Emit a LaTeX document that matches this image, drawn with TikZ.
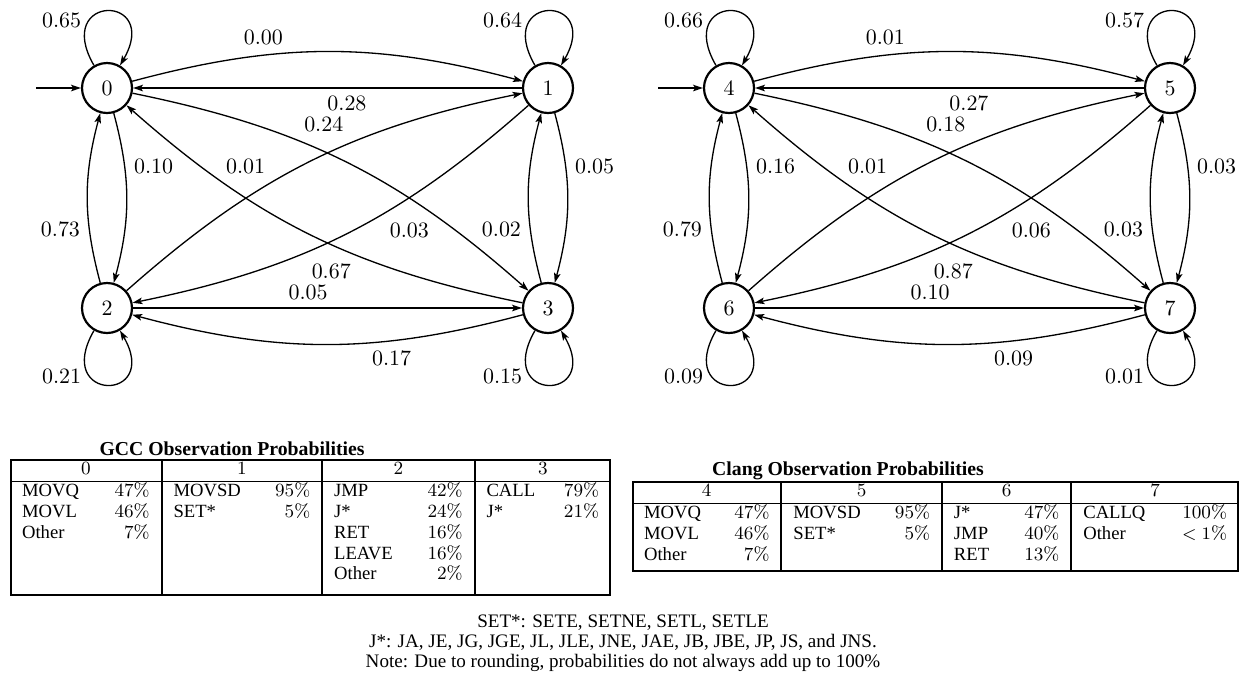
\documentclass[tikz,border=0pt]{standalone}
\usepackage{fontspec}
\usepackage{array}
\usetikzlibrary{arrows.meta}

\newfontfamily\timesfont{Liberation Serif}
\newcommand{\pct}[1]{{\rmfamily #1\%}}
\newcommand{\tabfont}{\timesfont\fontsize{8.5}{9.5}\selectfont}
\newcommand{\thinrule}{\noalign{\hrule height 0.45pt}}
\newcommand{\tabpad}[1]{\rule[-#1]{0pt}{#1}}

\tikzset{
  state/.style={circle, draw, line width=1pt, minimum size=22.8pt, inner sep=0pt},
  trans/.style={line width=0.6pt, -{Stealth[length=4.5pt, width=3pt, inset=1pt]}},
  lbl/.style={auto, pos=0.4},
  looplbl/.style={pos=0.3, left},
  loopup/.style={out=120, in=60, min distance=38pt},
  loopdown/.style={out=240, in=300, min distance=38pt},
  obstab/.style={draw, line width=1pt, inner sep=0pt, anchor=north west, font=\tabfont},
  tabtitle/.style={font=\timesfont\fontsize{9}{10}\selectfont\bfseries},
}

\begin{document}
\begin{tikzpicture}[x=0.456pt, y=-0.456pt]
\useasboundingbox (0,0) rectangle (1247,682);

% GCC model
\node[state] (s0) at (107,88) {0};
\node[state] (s1) at (548,88) {1};
\node[state] (s2) at (107,308) {2};
\node[state] (s3) at (548,308) {3};
\coordinate (in0) at (36,88);
\draw[trans] (in0) -- (s0);

\path[trans]
  (s0) edge[loopup] node[looplbl] {0.65} (s0)
  (s1) edge[loopup] node[looplbl] {0.64} (s1)
  (s2) edge[loopdown] node[looplbl] {0.21} (s2)
  (s3) edge[loopdown] node[looplbl] {0.15} (s3)
  (s0) edge[bend left=15] node[lbl] {0.00} (s1)
  (s1) edge node[lbl, pos=0.45] {0.28} (s0)
  (s2) edge node[lbl, pos=0.45] {0.05} (s3)
  (s3) edge[bend left=15] node[lbl] {0.17} (s2)
  (s0) edge[bend left=15] node[lbl] {0.10} (s2)
  (s2) edge[bend left=15] node[lbl] {0.73} (s0)
  (s1) edge[bend left=15] node[lbl] {0.05} (s3)
  (s3) edge[bend left=15] node[lbl] {0.02} (s1)
  (s0) edge[bend left=15] node[lbl, pos=0.37] {0.24} (s3)
  (s3) edge[bend left=15] node[lbl, pos=0.37] {0.67} (s0)
  (s2) edge[bend left=15] node[lbl] {0.01} (s1)
  (s1) edge[bend left=15] node[lbl] {0.03} (s2);

% Clang model
\node[state] (s4) at (729,88) {4};
\node[state] (s5) at (1170,88) {5};
\node[state] (s6) at (729,308) {6};
\node[state] (s7) at (1170,308) {7};
\coordinate (in4) at (658,88);
\draw[trans] (in4) -- (s4);

\path[trans]
  (s4) edge[loopup] node[looplbl] {0.66} (s4)
  (s5) edge[loopup] node[looplbl] {0.57} (s5)
  (s6) edge[loopdown] node[looplbl] {0.09} (s6)
  (s7) edge[loopdown] node[looplbl] {0.01} (s7)
  (s4) edge[bend left=15] node[lbl] {0.01} (s5)
  (s5) edge node[lbl, pos=0.45] {0.27} (s4)
  (s6) edge node[lbl, pos=0.45] {0.10} (s7)
  (s7) edge[bend left=15] node[lbl] {0.09} (s6)
  (s4) edge[bend left=15] node[lbl] {0.16} (s6)
  (s6) edge[bend left=15] node[lbl] {0.79} (s4)
  (s5) edge[bend left=15] node[lbl] {0.03} (s7)
  (s7) edge[bend left=15] node[lbl] {0.03} (s5)
  (s4) edge[bend left=15] node[lbl, pos=0.37] {0.18} (s7)
  (s7) edge[bend left=15] node[lbl, pos=0.37] {0.87} (s4)
  (s6) edge[bend left=15] node[lbl] {0.01} (s5)
  (s5) edge[bend left=15] node[lbl] {0.06} (s6);

% Observation tables
\node[tabtitle] (gcctitle) at (232,449) {GCC Observation Probabilities};
\node[obstab] (gcctab) at (10,459) {%
  \setlength{\arrayrulewidth}{0.9pt}\setlength{\tabcolsep}{5pt}%
  \begin{tabular}{p{58.2pt}|p{62.3pt}|p{58.6pt}|p{51.3pt}}
  \multicolumn{1}{c|}{\rmfamily 0} & \multicolumn{1}{c|}{\rmfamily 1} &
  \multicolumn{1}{c|}{\rmfamily 2} & \multicolumn{1}{c}{\rmfamily 3} \\ \thinrule
  MOVQ\hfill\pct{47}\newline MOVL\hfill\pct{46}\newline Other\hfill\pct{7} &
  MOVSD\hfill\pct{95}\newline SET*\hfill\pct{5} &
  JMP\hfill\pct{42}\newline J*\hfill\pct{24}\newline RET\hfill\pct{16}\newline
  LEAVE\hfill\pct{16}\newline Other\hfill\pct{2}\tabpad{7pt} &
  CALL\hfill\pct{79}\newline J*\hfill\pct{21} \\
  \end{tabular}};

\node[tabtitle] (clangtitle) at (848,471) {Clang Observation Probabilities};
\node[obstab] (clangtab) at (632,481) {%
  \setlength{\arrayrulewidth}{0.9pt}\setlength{\tabcolsep}{5pt}%
  \begin{tabular}{p{57.2pt}|p{62.3pt}|p{48.1pt}|p{65.5pt}}
  \multicolumn{1}{c|}{\rmfamily 4} & \multicolumn{1}{c|}{\rmfamily 5} &
  \multicolumn{1}{c|}{\rmfamily 6} & \multicolumn{1}{c}{\rmfamily 7} \\ \thinrule
  MOVQ\hfill\pct{47}\newline MOVL\hfill\pct{46}\newline Other\hfill\pct{7}\tabpad{5pt} &
  MOVSD\hfill\pct{95}\newline SET*\hfill\pct{5} &
  J*\hfill\pct{47}\newline JMP\hfill\pct{40}\newline RET\hfill\pct{13} &
  CALLQ\hfill\pct{100}\newline Other\hfill{\rmfamily$<1\%$} \\
  \end{tabular}};

% Notes
\node[align=center, font=\timesfont\fontsize{8.7}{9}\selectfont] (notes) at (623,643)
  {SET*: SETE, SETNE, SETL, SETLE\\
   J*: JA, JE, JG, JGE, JL, JLE, JNE, JAE, JB, JBE, JP, JS, and JNS.\\
   Note: Due to rounding, probabilities do not always add up to 100\%};
\end{tikzpicture}
\end{document}
